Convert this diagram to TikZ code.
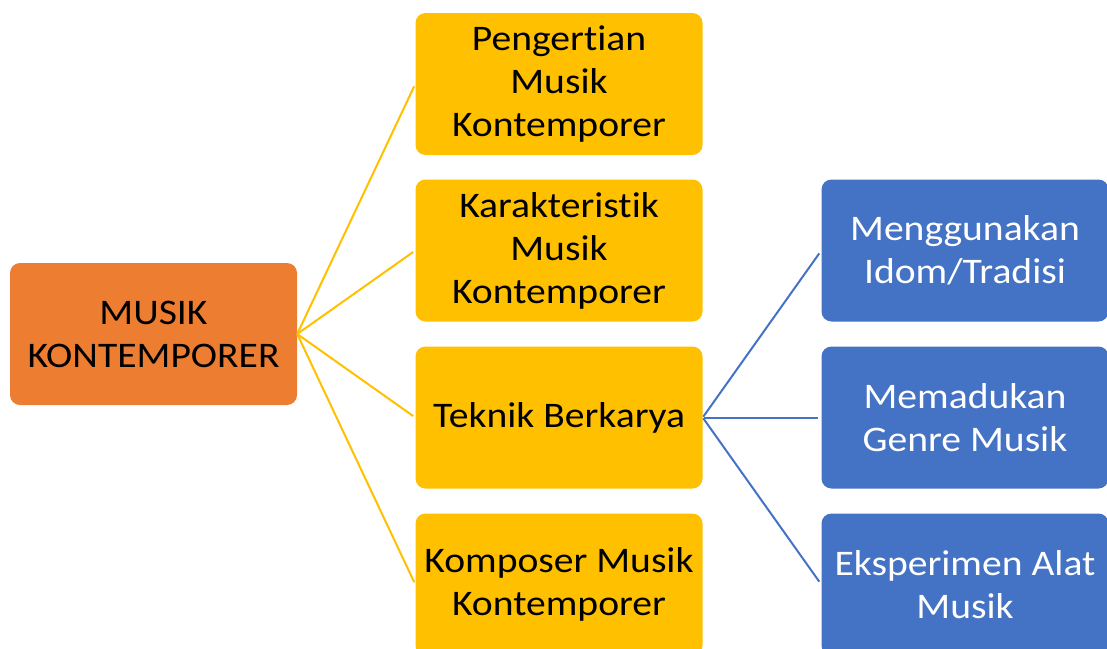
\documentclass[tikz,border=0pt]{standalone}
\usepackage{fontspec}
\setmainfont{Carlito}[FakeStretch=1.1,RawFeature={-liga}]
\definecolor{corange}{HTML}{ED7D31}
\definecolor{cyellow}{HTML}{FFC000}
\definecolor{cblue}{HTML}{4472C4}
\begin{document}
\begin{tikzpicture}[x=1pt,y=-1pt,
  box/.style={rectangle,rounded corners=10pt,minimum width=287pt,minimum height=142pt,
    inner sep=0pt,align=center,font=\fontsize{36}{43}\selectfont},
  rootbox/.style={box,fill=corange,text=black},
  ybox/.style={box,fill=cyellow,text=black},
  bbox/.style={box,fill=cblue,text=white},
  ylink/.style={draw=cyellow,line width=2pt,shorten >=2.5pt},
  blink/.style={draw=cblue,line width=2pt,shorten >=3.5pt,shorten <=1pt}]
\useasboundingbox (0,0) rectangle (1107,648);
\clip (0,0) rectangle (1107,648);
\node[rootbox] (root) at (153.5,334) {MUSIK\\KONTEMPORER};
\node[ybox] (y1) at (559,84) {Pengertian\\Musik\\Kontemporer};
\node[ybox] (y2) at (559,250.5) {Karakteristik\\Musik\\Kontemporer};
\node[ybox] (y3) at (559,417.5) {Teknik Berkarya};
\node[ybox] (y4) at (559,584.5) {Komposer Musik\\Kontemporer};
\node[bbox] (b1) at (965,250.5) {Menggunakan\\Idom/Tradisi};
\node[bbox] (b2) at (965,417.5) {Memadukan\\Genre Musik};
\node[bbox] (b3) at (965,584.5) {Eksperimen Alat\\Musik};
\foreach \t in {y1,y2,y3,y4} \draw[ylink] (root.east) -- (\t.west);
\foreach \t in {b1,b2,b3} \draw[blink] (y3.east) -- (\t.west);
\end{tikzpicture}
\end{document}
